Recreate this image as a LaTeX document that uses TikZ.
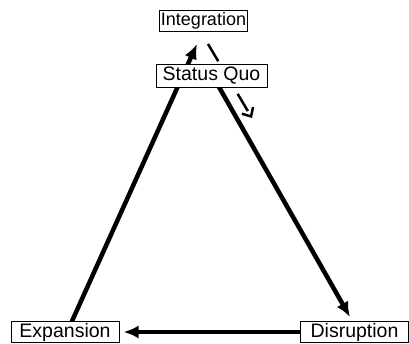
\documentclass[tikz,border=0pt]{standalone}
\usepackage{fontspec}
\setmainfont{Liberation Sans}
\usetikzlibrary{positioning,arrows.meta,backgrounds}
\tikzset{
  line/.style={-{Latex[length=15pt,width=13pt]}, line width=4.5pt},
  dashline/.style={-{Straight Barb[length=7pt,width=13pt]}, line width=2.5pt, dash pattern=on 20pt off 9pt},
  box/.style={draw, fill=white, line width=1pt, inner sep=1pt, minimum height=21pt, font=\fontsize{19.5}{21}\selectfont},
  topbox/.style={box, minimum width=85pt, font=\fontsize{18}{20}\selectfont},
  cornerbox/.style={box, minimum width=108pt}
}

\begin{document}
\begin{tikzpicture}[x=1pt,y=-1pt]
  \useasboundingbox (0,0) rectangle (409,343);
  \node[topbox] (integ) at (203.5,21) {Integration};
  \node[box, minimum width=111pt, minimum height=23pt, below=32pt of integ, xshift=8pt] (quo) {Status Quo};
  \node[cornerbox] (expan) at (65,332) {Expansion};
  \node[cornerbox] (disrupt) at (354.5,332) {Disruption};
  \coordinate (drift) at (252,118);

  \begin{scope}[on background layer]
    \draw[line] ([xshift=4.8pt,yshift=-5pt]expan.north) -- ([xshift=-6.5pt,yshift=-12pt]integ.south);
    \draw[line] ([xshift=5.2pt,yshift=5pt]quo.south) -- ([xshift=-4.5pt,yshift=4pt]disrupt.north);
    \draw[line] (disrupt.west) -- ([xshift=4pt]expan.east);
    \draw[dashline] ([xshift=4.5pt,yshift=-12pt]integ.south) -- (drift);
  \end{scope}
\end{tikzpicture}
\end{document}
